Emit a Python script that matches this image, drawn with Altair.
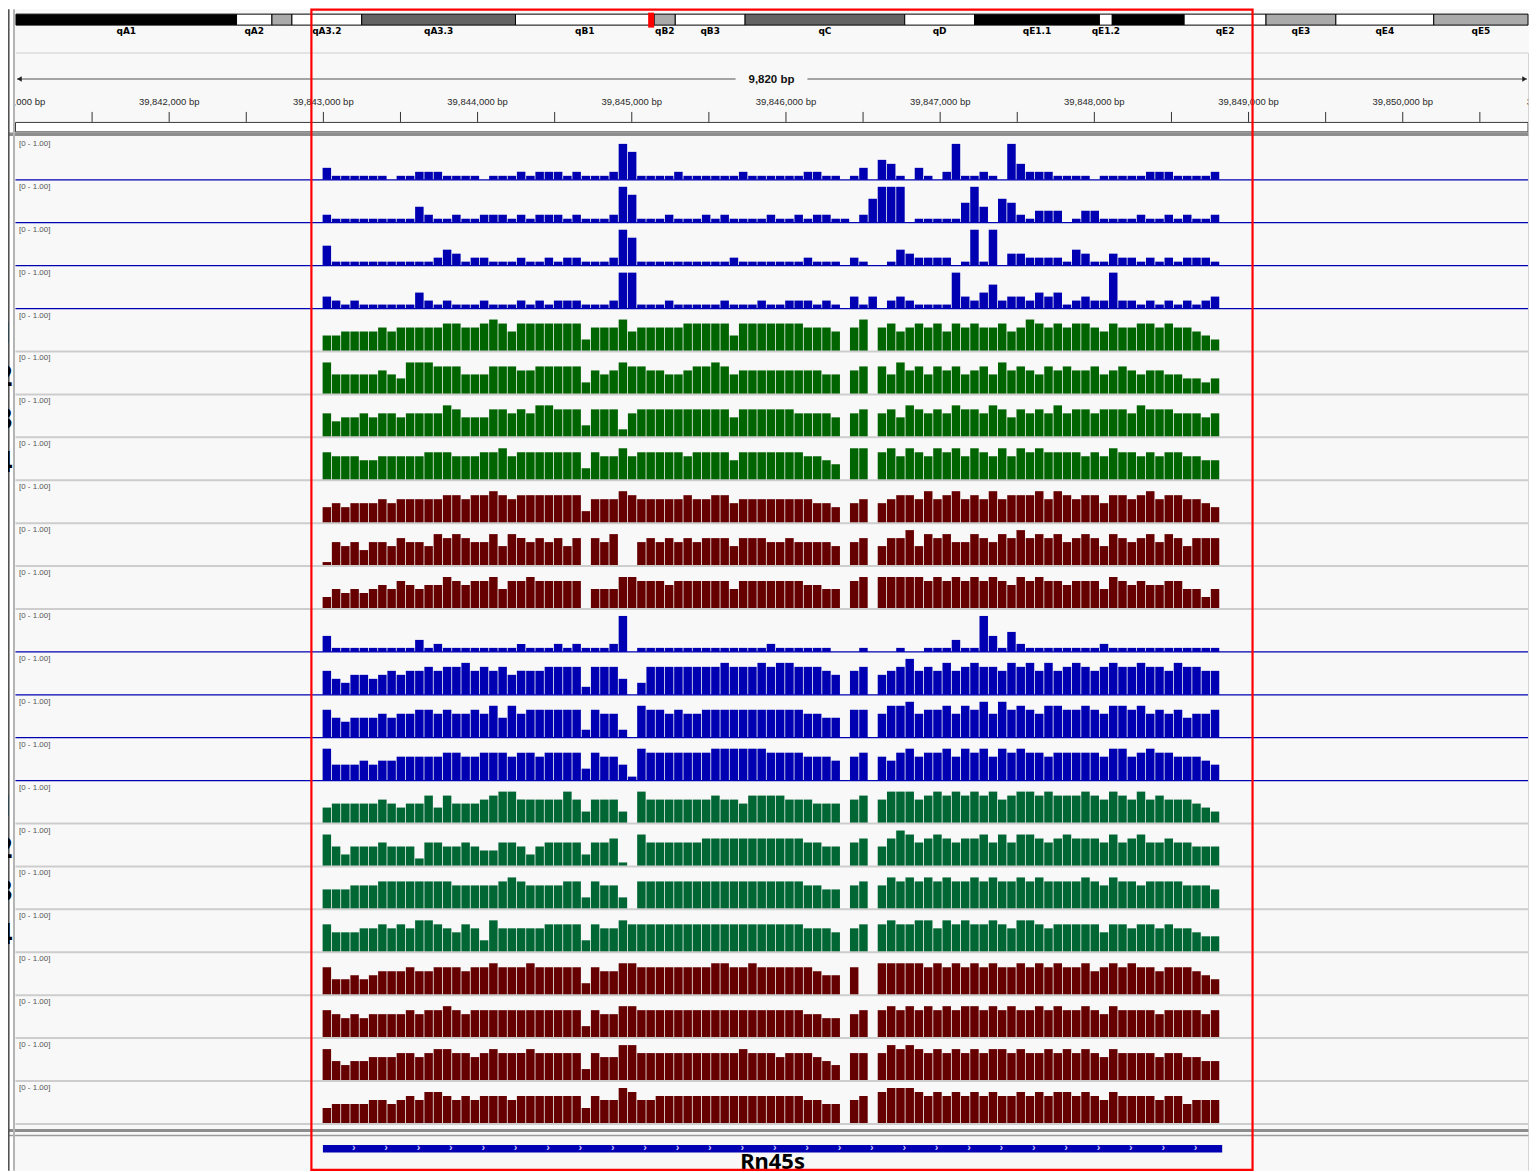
import altair as alt
import pandas as pd

alt.data_transformers.disable_max_rows()

# ---------------- data ----------------
# coverage tracks: one digit per 60 bp bin (value = digit / 10, IGV range [0 - 1.00])
BIN_START = 39842995
BIN_BP = 60

T01 = "3111111011" "2221111011" "1212221211" "1297111121" "1111121111" "1122110130" "5410310291" "1210942221" "1110111112" "2211112"
T02 = "2111111111" "4211211222" "1212221211" "1297111211" "1212111121" "1212211026" "9990111115" "9406521333" "0133111121" "1212112"
T03 = "5111111111" "1124312211" "1211212211" "1297111111" "1111211111" "1121110210" "0143222201" "9190332222" "1431132212" "1212221"
T04 = "3212111111" "4212111211" "1212122211" "1299111211" "1112111211" "2221210313" "0232111193" "2462332434" "1232292212" "1212123"
T05 = "4455556566" "6667766787" "5777777736" "6685666667" "7777477777" "7766650680" "6756767576" "7667568767" "6776576677" "6766543"
T06 = "8555556548" "8877755577" "7667777736" "5687766556" "7787566666" "6666550670" "7586757675" "6758676576" "7667567656" "6554434"
T07 = "6455656656" "6668755577" "6768877737" "7726777777" "7777577777" "7666650670" "6758767687" "7687576768" "6776777687" "7766656"
T08 = "7666556666" "6777666778" "6777777737" "6686777776" "7777577777" "7766540880" "7868768786" "8768687877" "7767687767" "6776655"
T09 = "4545556566" "6667767787" "6777777736" "6687666667" "6677566666" "6665540560" "5677686786" "7686777868" "7677577678" "6776654"
T10 = "1656466576" "6587876685" "8767675707" "6800676767" "6777577766" "7666650670" "5779587866" "8768797878" "6787587678" "6875777"
T11 = "3545456576" "5668767785" "7787777705" "5588777677" "7777577777" "7766550780" "8888878787" "8787687877" "6777587676" "6775535"
T12 = "4111111111" "3121111111" "1211121211" "1290111111" "1111111121" "1111100010" "0010011131" "1941521111" "1111211111" "1111111"
T13 = "6435545656" "6767786767" "5666777727" "7740377777" "7778777878" "8777650670" "5679676867" "8776878686" "7876787787" "7687766"
T14 = "7545556566" "7767667685" "8677777727" "6620877676" "6777777777" "7766550770" "6889677868" "7969787688" "7787688786" "7675667"
T15 = "8444545566" "6667766777" "6776777737" "6641877777" "7788888877" "7766650670" "6578677868" "7868787767" "7777688678" "7766654"
T16 = "4555556545" "5747555678" "8666668636" "6630866666" "6676657777" "6665550670" "6888678787" "8786788787" "7787687686" "7666543"
T17 = "8535556555" "2665565446" "6535666636" "6710866666" "6777777777" "7766550670" "5798678767" "7868688767" "8777686786" "6766555"
T18 = "5556667777" "7777666667" "8766667737" "6630777777" "7777777777" "7766550670" "6878787877" "8787787877" "7787687767" "7776665"
T19 = "7555667676" "8876576386" "6666777737" "6687777777" "7777777777" "7766650670" "7877886878" "7787688767" "7777577677" "6766544"
T20 = "7445456667" "6677767787" "7787777737" "6688777777" "7788778777" "7776550700" "8888878787" "8787787878" "7786787877" "6777654"
T21 = "7656566667" "6778767777" "7777777737" "6688777777" "7777777777" "7766550670" "7878787878" "8787877878" "7787687777" "6777767"
T22 = "8545566677" "6788776787" "7787777737" "6699777777" "7777787776" "7776540770" "7989878787" "8788787787" "8787687777" "6776655"
T23 = "4555566567" "6887676777" "6777777747" "6698667777" "7777777777" "7766550670" "8999878787" "8787787878" "8787687777" "6775666"

TRACKS = [T01, T02, T03, T04, T05, T06, T07, T08, T09, T10, T11, T12,
          T13, T14, T15, T16, T17, T18, T19, T20, T21, T22, T23]
BLUE, GREEN, RED, TEAL = "#0000b2", "#006400", "#660000", "#006633"
TRACK_COLORS = [BLUE] * 4 + [GREEN] * 4 + [RED] * 3 + [BLUE] * 4 + [TEAL] * 4 + [RED] * 4
TRACK_RANGE = "[0 - 1.00]"
SIDE_DIGITS = {4: "1", 5: "2", 6: "3", 7: "4", 15: "1", 16: "2", 17: "3", 18: "4"}

# chr17 ideogram (Mb)
CHR_LEN_MB = 95.29
BAND_NAMES = ["qA1", "qA2", "qA3.1", "qA3.2", "qA3.3", "qB1", "qB2", "qB3", "qC", "qD",
              "qE1.1", "qE1.2", "qE1.3", "qE2", "qE3", "qE4", "qE5"]
BAND_END_MB = [13.90, 16.13, 17.39, 21.79, 31.48, 40.22, 41.55, 45.95, 56.01, 60.41,
               68.28, 69.09, 73.62, 78.78, 83.18, 89.35, 95.29]
BAND_STAIN = ["gpos100", "gneg", "gpos33", "gneg", "gpos75", "gneg", "gpos33", "gneg", "gpos75", "gneg",
              "gpos100", "gneg", "gpos100", "gneg", "gpos33", "gneg", "gpos33"]
HIDDEN_LABELS = ["qA3.1", "qE1.3"]
VIEW_START_MB, VIEW_END_MB = 39.841, 39.851

RULER_LABELS = [39841000, 39842000, 39843000, 39844000, 39845000, 39846000,
                39847000, 39848000, 39849000, 39850000, 39851000]
RULER_SPAN = "9,820 bp"

GENE_NAME = "Rn45s"
GENE_START, GENE_END = 39842997, 39848829

# ---------------- layout ----------------
W, H = 1524, 1164
TOP = 8
PANEL_BG = "#f8f8f8"


def bp(px):
    """genomic position under a page pixel column"""
    return 39843000 + (px - 324) / 0.1545


XSC = alt.Scale(domain=[bp(8), bp(8 + W)], nice=False, zero=False)
YSC = alt.Scale(domain=[TOP, TOP + H], nice=False, zero=False, reverse=True)


def X(f):
    return alt.X(f + ":Q", scale=XSC, axis=None)


def Y(f):
    return alt.Y(f + ":Q", scale=YSC, axis=None)


def df(rows):
    return pd.DataFrame(rows)


layers = []

# panel background
layers.append(alt.Chart(df([{"x0": bp(15), "x1": bp(1532), "y0": TOP, "y1": TOP + H}]))
              .mark_rect(color=PANEL_BG)
              .encode(x=X("x0"), x2="x1", y=Y("y0"), y2="y1"))

# ideogram
L16, R1531 = bp(16), bp(1531)


def mb2bp(mb):
    return L16 + mb / CHR_LEN_MB * (R1531 - L16)


STAIN_FILL = {"gneg": "#ffffff", "gpos33": "#aaaaaa", "gpos75": "#636363", "gpos100": "#000000"}
starts = [0.0] + BAND_END_MB[:-1]
ideo = df({"name": BAND_NAMES,
           "x0": [mb2bp(s) for s in starts],
           "x1": [mb2bp(e) for e in BAND_END_MB],
           "fill": [STAIN_FILL[s] for s in BAND_STAIN]})
ideo["xm"] = (ideo["x0"] + ideo["x1"]) / 2
ideo["y0"], ideo["y1"], ideo["yl"] = 13, 24, 30
ideo["label"] = [("" if n in HIDDEN_LABELS else n) for n in BAND_NAMES]
layers.append(alt.Chart(ideo).mark_rect(stroke="#000000", strokeWidth=1)
              .encode(x=X("x0"), x2="x1", y=Y("y0"), y2="y1", color=alt.Color("fill:N", scale=None)))
layers.append(alt.Chart(ideo).mark_text(fontSize=9, fontWeight="bold", font="DejaVu Sans", color="#000000")
              .encode(x=X("xm"), y=Y("yl"), text="label:N"))
mk0 = mb2bp(VIEW_START_MB)
mk1 = max(mb2bp(VIEW_END_MB), mk0 + 6 / 0.1545)
layers.append(alt.Chart(df([{"x0": mk0, "x1": mk1, "y0": 11.5, "y1": 26.5}]))
              .mark_rect(color="#ff0000")
              .encode(x=X("x0"), x2="x1", y=Y("y0"), y2="y1"))

# separator under ideogram
layers.append(alt.Chart(df([{"x0": bp(16), "x1": bp(1531), "y": 52}]))
              .mark_rule(color="#dcdcdc", strokeWidth=1.5)
              .encode(x=X("x0"), x2="x1", y=Y("y")))

# ruler
layers.append(alt.Chart(df([{"x0": bp(17), "x1": bp(1530), "y": 78}]))
              .mark_rule(color="#505050", strokeWidth=1)
              .encode(x=X("x0"), x2="x1", y=Y("y")))
layers.append(alt.Chart(df([{"x": bp(19.5), "y": 78, "s": "triangle-left"},
                            {"x": bp(1527.5), "y": 78, "s": "triangle-right"}]))
              .mark_point(filled=True, size=28, color="#202020", opacity=1)
              .encode(x=X("x"), y=Y("y"), shape=alt.Shape("s:N", scale=None)))
layers.append(alt.Chart(df([{"x0": bp(737), "x1": bp(809), "y0": 71, "y1": 86}]))
              .mark_rect(color=PANEL_BG)
              .encode(x=X("x0"), x2="x1", y=Y("y0"), y2="y1"))
layers.append(alt.Chart(df([{"x": bp(773), "y": 79, "t": RULER_SPAN}]))
              .mark_text(fontSize=11.5, fontWeight="bold", font="Liberation Sans", color="#111111")
              .encode(x=X("x"), y=Y("y"), text="t:N"))
tick_rows = [{"x": t, "y0": 111, "y1": 121} for t in range(39841500, 39851000, 500) if bp(16) < t < bp(1531)]
layers.append(alt.Chart(df(tick_rows)).mark_rule(color="#333333", strokeWidth=1)
              .encode(x=X("x"), y=Y("y0"), y2="y1"))
lab_rows = [{"x": t, "y": 101, "t": f"{t:,} bp"} for t in RULER_LABELS]
layers.append(alt.Chart(df(lab_rows)).mark_text(fontSize=9.5, font="Liberation Sans", color="#2a2a2a")
              .encode(x=X("x"), y=Y("y"), text="t:N"))
layers.append(alt.Chart(df([{"x0": bp(8), "x1": bp(15.5), "y0": 93, "y1": 109}]))
              .mark_rect(color="#ffffff")
              .encode(x=X("x0"), x2="x1", y=Y("y0"), y2="y1"))
layers.append(alt.Chart(df([{"x0": bp(15.5), "x1": bp(1531), "y0": 121.5, "y1": 131}]))
              .mark_rect(color="#ffffff", stroke="#3a3a3a", strokeWidth=1)
              .encode(x=X("x0"), x2="x1", y=Y("y0"), y2="y1"))
layers.append(alt.Chart(df([{"x0": bp(9), "x1": bp(1532), "y0": 131.5, "y1": 135}]))
              .mark_rect(color="#8e8e8e")
              .encode(x=X("x0"), x2="x1", y=Y("y0"), y2="y1"))

# tracks
sep_rows, lab_rows, bar_rows, dig_rows = [], [], [], []
for k, s in enumerate(TRACKS):
    base = 179 + 43 * k
    col = TRACK_COLORS[k]
    sep_rows.append({"x0": bp(15.5), "x1": bp(1531), "y": base,
                     "c": col if col == BLUE else "#cdcdcd", "w": 1.3 if col == BLUE else 2.0})
    lab_rows.append({"x": bp(19), "y": base - 36, "t": TRACK_RANGE})
    for i, ch in enumerate(s):
        v = int(ch) / 10
        if v <= 0:
            continue
        bar_rows.append({"x0": BIN_START + i * BIN_BP, "x1": BIN_START + (i + 1) * BIN_BP - 5,
                         "y0": base - v * 40, "y1": base, "c": col})
    if k in SIDE_DIGITS:
        dig_rows.append({"x": bp(12.5), "y": base - 16, "t": SIDE_DIGITS[k]})

layers.append(alt.Chart(df(bar_rows)).mark_rect()
              .encode(x=X("x0"), x2="x1", y=Y("y0"), y2="y1", color=alt.Color("c:N", scale=None)))
layers.append(alt.Chart(df(sep_rows)).mark_rule()
              .encode(x=X("x0"), x2="x1", y=Y("y"), color=alt.Color("c:N", scale=None),
                      strokeWidth=alt.StrokeWidth("w:Q", scale=None)))
layers.append(alt.Chart(df(lab_rows)).mark_text(fontSize=8, font="Liberation Sans", color="#555555", align="left")
              .encode(x=X("x"), y=Y("y"), text="t:N"))

# bottom separator
layers.append(alt.Chart(df([{"x0": bp(9), "x1": bp(1532), "y0": 1130, "y1": 1133}]))
              .mark_rect(color="#8e8e8e")
              .encode(x=X("x0"), x2="x1", y=Y("y0"), y2="y1"))
layers.append(alt.Chart(df([{"x0": bp(9), "x1": bp(1532), "y": 1136.5}]))
              .mark_rule(color="#9a9a9a", strokeWidth=1.5)
              .encode(x=X("x0"), x2="x1", y=Y("y")))

# gene track
layers.append(alt.Chart(df([{"x0": GENE_START, "x1": GENE_END, "y0": 1146, "y1": 1153.5}]))
              .mark_rect(color=BLUE)
              .encode(x=X("x0"), x2="x1", y=Y("y0"), y2="y1"))
chev = [{"x": p, "y": 1149.6, "t": "›"} for p in range(GENE_START + 200, GENE_END - 120, 210)]
layers.append(alt.Chart(df(chev)).mark_text(fontSize=11, fontWeight="bold", color="#c8c8ff")
              .encode(x=X("x"), y=Y("y"), text="t:N"))
layers.append(alt.Chart(df([{"x": (GENE_START + GENE_END) / 2, "y": 1153.5, "t": GENE_NAME}]))
              .mark_text(fontSize=22, fontWeight="bold", font="Noto Sans", color="#000000", baseline="top")
              .encode(x=X("x"), y=Y("y"), text="t:N"))

# left borders
layers.append(alt.Chart(df([{"x": bp(8.8), "y0": TOP, "y1": TOP + H}]))
              .mark_rule(color="#4a4a4a", strokeWidth=1.5)
              .encode(x=X("x"), y=Y("y0"), y2="y1"))
layers.append(alt.Chart(df([{"x": bp(14), "y0": TOP, "y1": TOP + H}]))
              .mark_rule(color="#b4b4b4", strokeWidth=2)
              .encode(x=X("x"), y=Y("y0"), y2="y1"))
layers.append(alt.Chart(df([{"x": bp(1532), "y0": 52, "y1": TOP + H}]))
              .mark_rule(color="#c8c8c8", strokeWidth=1.5)
              .encode(x=X("x"), y=Y("y0"), y2="y1"))
layers.append(alt.Chart(df(dig_rows)).mark_text(fontSize=28, fontWeight="bold", font="Noto Sans",
                                               color="#000000", align="right", clip=True)
              .encode(x=X("x"), y=Y("y"), text="t:N"))

# red region-of-interest box
layers.append(alt.Chart(df([{"x0": bp(312), "x1": bp(1255), "y0": 8.5, "y1": 1171}]))
              .mark_rect(fillOpacity=0, stroke="#ff0000", strokeWidth=2.2)
              .encode(x=X("x0"), x2="x1", y=Y("y0"), y2="y1"))

chart = (alt.layer(*layers)
         .properties(width=W, height=H, padding=0, background="#ffffff",
                     autosize=alt.AutoSizeParams(type="none"))
         .configure_view(stroke=None))

chart.save("out.html", embed_options={"renderer": "svg", "actions": False})
